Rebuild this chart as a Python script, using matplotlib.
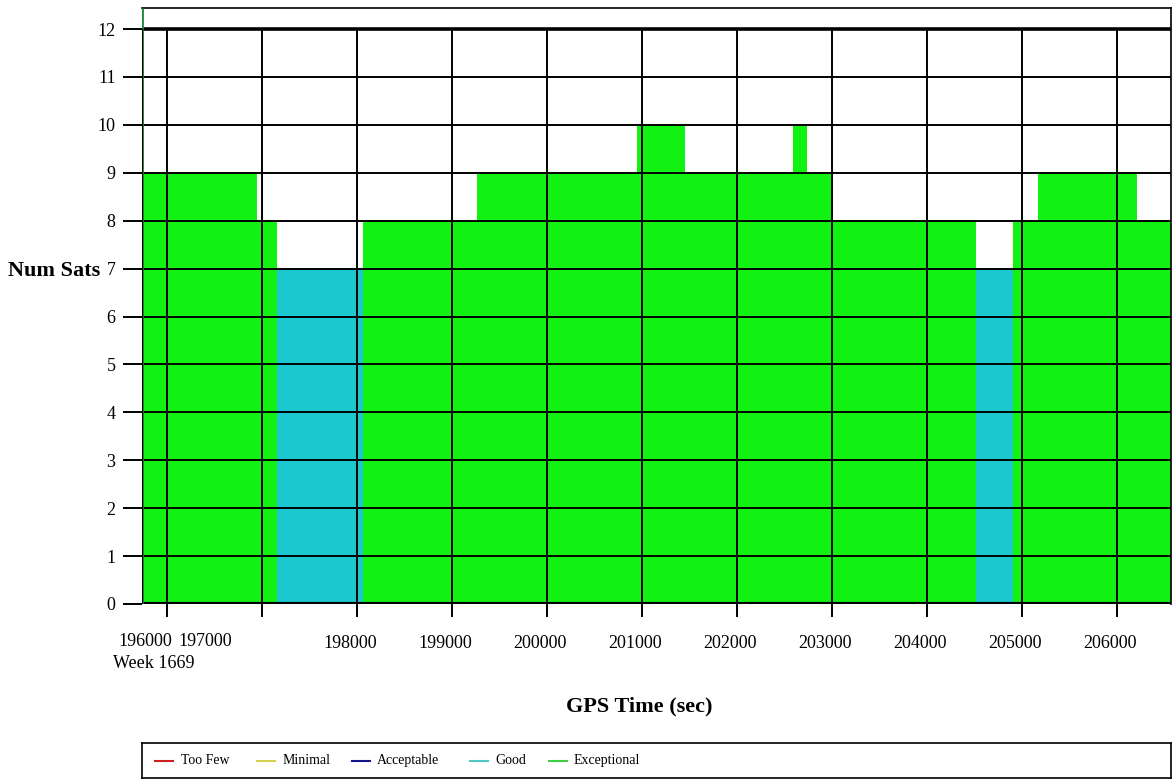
import matplotlib
matplotlib.use("Agg")
import matplotlib.pyplot as plt
import numpy as np
import matplotlib.transforms as mtransforms

plt.rcParams['font.family'] = ['Liberation Serif', 'DejaVu Serif']

# ---- data ----
change_times = [195737, 196947, 197158, 198063, 199263, 200947, 201453,
                202589, 202737, 203000, 204516, 204905, 205168, 206211, 206568]
num_sats = [9, 8, 7, 8, 9, 10, 9, 10, 9, 8, 7, 8, 9, 8, 8]
good_level = 7          # sats == 7 -> Good, >= 8 -> Exceptional
x_ticks = [196000, 197000, 198000, 199000, 200000, 201000, 202000,
           203000, 204000, 205000, 206000]
x_tick_labels = ["196000", "197000", "198000", "199000", "200000", "201000",
                 "202000", "203000", "204000", "205000", "206000"]
y_ticks = list(range(0, 13))
legend_labels = ["Too Few", "Minimal", "Acceptable", "Good", "Exceptional"]
legend_colors = ["#cc2020", "#d4d050", "#14148c", "#50c8c8", "#40d040"]

GREEN = "#12f212"
CYAN = "#1cc8d0"

W, H = 1172, 780
fig = plt.figure(figsize=(W / 100, H / 100), dpi=100)
ax = fig.add_axes([142 / W, 1 - 604 / H, (1171 - 142) / W, (604 - 8) / H])

t = np.array(change_times, dtype=float)
v = np.array(num_sats, dtype=float)
is_good = v == good_level
for i in range(len(t) - 1):
    col = CYAN if is_good[i] else GREEN
    ax.fill_between([t[i], t[i + 1]], 0, v[i], color=col, lw=0, step='post')

ax.set_xlim(195737, 206568)
ax.set_ylim(0, 12.44)

# grid
for yy in range(1, 12):
    ax.axhline(yy, color='black', lw=1.4, zorder=3)
ax.axhline(12, color='black', lw=2.6, zorder=3)
ax.axhline(0, color='black', lw=3.0, zorder=3)
ax.vlines(x_ticks, 0, 12, color='black', lw=1.4, zorder=3)
ax.vlines([t[0]], 0, 12.44, color='#1a8a3a', lw=2.0, zorder=4)
ax.vlines([t[0]], 0, 12, color='black', lw=1.6, zorder=4)

for s in ['top', 'right']:
    ax.spines[s].set_linewidth(1.2)
ax.spines['left'].set_visible(False)
ax.spines['bottom'].set_visible(False)

ax.set_yticks(y_ticks)
ax.set_yticklabels([str(y) for y in y_ticks], fontsize=13)
ax.tick_params(axis='y', length=14, width=1.4, pad=5, direction='out')
ax.set_xticks(x_ticks)
ax.set_xticklabels([""] * 2 + x_tick_labels[2:], fontsize=13)
ax.tick_params(axis='x', length=9, width=1.4, pad=13, direction='out')
shift = mtransforms.ScaledTranslation(-7 / 100, 0, fig.dpi_scale_trans)
for lab in ax.get_xticklabels():
    lab.set_transform(lab.get_transform() + shift)

trans = mtransforms.blended_transform_factory(ax.transData, fig.transFigure)
ax.text(195770, 1 - 642 / H, x_tick_labels[0], transform=trans, ha='center',
        va='center', fontsize=13)
ax.text(196400, 1 - 642 / H, x_tick_labels[1], transform=trans, ha='center',
        va='center', fontsize=13)
fig.text(113 / W, 1 - 663 / H, "Week 1669", ha='left', va='center', fontsize=13)

fig.text(8 / W, 1 - 271 / H, "Num Sats", ha='left', va='center', fontsize=16,
         fontweight='bold')
fig.text(639 / W, 1 - 706 / H, "GPS Time (sec)", ha='center', va='center',
         fontsize=16, fontweight='bold')

# legend box
lx0, lx1 = 142, 1171
lax = fig.add_axes([lx0 / W, 1 - 778 / H, (lx1 - lx0) / W, (778 - 743) / H])
lax.set_xlim(lx0, lx1)
lax.set_ylim(0, 1)
lax.set_xticks([])
lax.set_yticks([])
for s in lax.spines.values():
    s.set_linewidth(1.2)
line_x = [155, 257, 352, 470, 549]
text_x = [181, 283, 377, 495, 574]
for lbl, col, lx, tx in zip(legend_labels, legend_colors, line_x, text_x):
    lax.plot([lx, lx + 18], [0.5, 0.5], color=col, lw=1.5)
    lax.text(tx, 0.5, lbl, ha='left', va='center', fontsize=10)

fig.savefig("out.png", dpi=100)
